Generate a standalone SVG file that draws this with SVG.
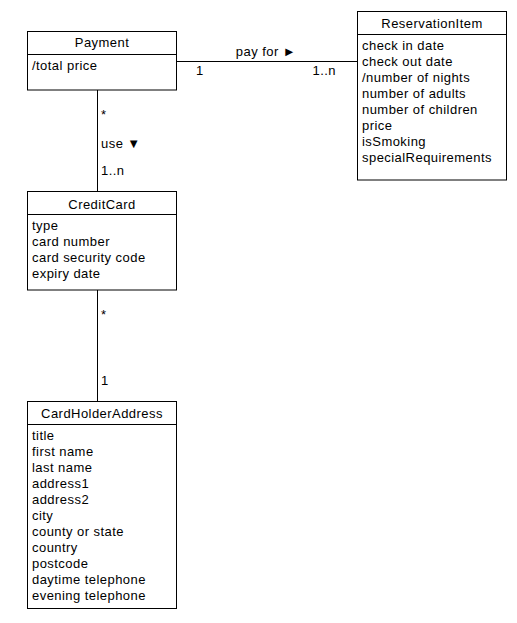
<svg xmlns="http://www.w3.org/2000/svg" width="517" height="623" viewBox="0 0 517 623">
<style>
.box{fill:#fff;stroke:#000;stroke-width:1}
.sep{stroke:#000;stroke-width:1}
text{font-family:"Liberation Sans",Arial,sans-serif;font-size:13px;letter-spacing:0.45px;fill:#000}
.h{text-anchor:middle}
.edge{stroke:#000;stroke-width:1;fill:none}
</style>
<rect width="517" height="623" fill="#fff"/>
<g id="connectors">
<line class="edge" x1="176.5" y1="61.5" x2="357.5" y2="61.5"/>
<text x="266" y="56" class="h">pay for ►</text>
<text x="196" y="75">1</text>
<text x="336" y="75" text-anchor="end">1..n</text>
<line class="edge" x1="97.5" y1="90" x2="97.5" y2="191.5"/>
<text x="101" y="119">*</text>
<text x="101" y="148">use ▼</text>
<text x="101" y="175">1..n</text>
<line class="edge" x1="97.5" y1="290" x2="97.5" y2="401.5"/>
<text x="101" y="319">*</text>
<text x="101" y="385">1</text>
</g>
<g id="Payment">
<rect class="box" x="27.5" y="31.5" width="149" height="58.5"/>
<line class="sep" x1="27.5" y1="54.5" x2="176.5" y2="54.5"/>
<text x="102" y="47" class="h">Payment</text>
<text x="32" y="70">/total price</text>
</g>
<g id="ReservationItem">
<rect class="box" x="357.5" y="11.5" width="149" height="168.5"/>
<line class="sep" x1="357.5" y1="34.5" x2="506.5" y2="34.5"/>
<text x="432" y="28" class="h">ReservationItem</text>
<text x="362" y="50">check in date</text>
<text x="362" y="66">check out date</text>
<text x="362" y="82">/number of nights</text>
<text x="362" y="98">number of adults</text>
<text x="362" y="114">number of children</text>
<text x="362" y="130">price</text>
<text x="362" y="146">isSmoking</text>
<text x="362" y="162">specialRequirements</text>
</g>
<g id="CreditCard">
<rect class="box" x="27.5" y="191.5" width="149" height="98.5"/>
<line class="sep" x1="27.5" y1="214.5" x2="176.5" y2="214.5"/>
<text x="102" y="209" class="h">CreditCard</text>
<text x="32" y="230">type</text>
<text x="32" y="246">card number</text>
<text x="32" y="262">card security code</text>
<text x="32" y="278">expiry date</text>
</g>
<g id="CardHolderAddress">
<rect class="box" x="27.5" y="401.5" width="149" height="207"/>
<line class="sep" x1="27.5" y1="424.5" x2="176.5" y2="424.5"/>
<text x="102" y="418" class="h">CardHolderAddress</text>
<text x="32" y="440">title</text>
<text x="32" y="456">first name</text>
<text x="32" y="472">last name</text>
<text x="32" y="488">address1</text>
<text x="32" y="504">address2</text>
<text x="32" y="520">city</text>
<text x="32" y="536">county or state</text>
<text x="32" y="552">country</text>
<text x="32" y="568">postcode</text>
<text x="32" y="584">daytime telephone</text>
<text x="32" y="600">evening telephone</text>
</g>
</svg>
